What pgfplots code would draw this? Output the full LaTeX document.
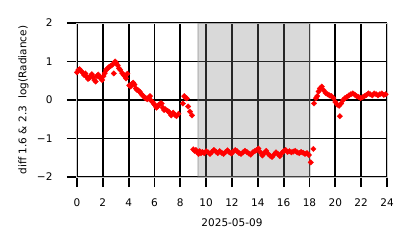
\documentclass[border=0pt]{standalone}
\usepackage{pgfplots}
\pgfplotsset{compat=1.18}
\usepackage{fontspec}
\setmainfont{DejaVu Sans}
\definecolor{mpurple}{RGB}{128,0,128}
\definecolor{mred}{RGB}{255,0,0}
\definecolor{spine}{RGB}{204,204,204}

\begin{document}
\begin{tikzpicture}
\begin{axis}[
  at={(0,0)}, anchor=south west,
  width=310bp, height=154bp, scale only axis,
  xmin=0, xmax=24, ymin=-2, ymax=2,
  xtick={0,2,...,24},
  xticklabels={0,2,4,6,8,10,12,14,16,18,20,22,24},
  ytick={-2,-1,0,1,2},
  yticklabels={−2,−1,0,1,2},
  tick align=outside,
  xtick pos=bottom, ytick pos=left,
  major tick length=10bp,
  tick style={black, line width=1.8bp},
  xmajorgrids=true, ymajorgrids=true,
  major grid style={black, line width=1.8bp},
  axis line style={spine, line width=1bp},
  ticklabel style={font=\fontsize{10.5bp}{12bp}\selectfont},
  yticklabel style={anchor=east, xshift=-11bp},
  xticklabel style={anchor=north, yshift=-8bp},
  xlabel={2025-05-09},
  xlabel style={at={(axis description cs:0.5,0)}, anchor=base, yshift=-49bp, font=\fontsize{10.5bp}{12bp}\selectfont},
  ylabel={diff 1.6 \& 2.3\hspace{0.7em}log(Radiance)},
  ylabel style={at={(axis description cs:-0.163,0.5)}, anchor=base, font=\fontsize{10.5bp}{12bp}\selectfont},
]
\addplot[only marks, color=mred, mark=square*, mark size=1.95bp, mark options={rotate=45, line width=0.3bp}] table {
0.0 0.72
0.1 0.78
0.2 0.80
0.3 0.76
0.45 0.70
0.55 0.65
0.65 0.69
0.75 0.60
0.85 0.55
0.95 0.57
1.05 0.63
1.15 0.67
1.25 0.60
1.35 0.52
1.45 0.48
1.55 0.62
1.65 0.66
1.75 0.60
1.85 0.56
1.95 0.52
2.05 0.62
2.15 0.70
2.25 0.78
2.35 0.82
2.5 0.86
2.6 0.88
2.75 0.92
2.85 0.69
2.95 1.00
3.05 0.96
3.15 0.90
3.25 0.82
3.35 0.78
3.5 0.70
3.6 0.65
3.7 0.62
3.8 0.56
3.9 0.68
4.05 0.38
4.15 0.35
4.25 0.42
4.35 0.45
4.45 0.40
4.55 0.30
4.65 0.26
4.75 0.25
4.85 0.22
4.95 0.17
5.05 0.13
5.15 0.10
5.25 0.06
5.35 0.04
5.45 0.02
5.55 0.06
5.65 0.10
5.75 -0.02
5.85 -0.05
5.95 -0.10
6.05 -0.14
6.15 -0.20
6.25 -0.17
6.35 -0.12
6.45 -0.09
6.55 -0.09
6.65 -0.20
6.75 -0.26
6.85 -0.24
7.0 -0.28
7.1 -0.30
7.2 -0.35
7.3 -0.40
7.45 -0.33
7.6 -0.39
7.7 -0.42
7.85 -0.36
8.2 -0.09
8.3 0.10
8.4 0.06
8.5 0.04
8.6 -0.17
8.75 -0.30
8.9 -0.40
9.0 -1.28
9.1 -1.32
9.2 -1.30
9.3 -1.36
9.4 -1.40
9.5 -1.33
9.6 -1.38
9.7 -1.35
9.85 -1.38
10.0 -1.33
10.15 -1.36
10.3 -1.40
10.45 -1.35
10.6 -1.30
10.75 -1.34
10.9 -1.38
11.05 -1.33
11.2 -1.37
11.35 -1.40
11.5 -1.35
11.65 -1.31
11.8 -1.36
11.95 -1.39
12.1 -1.34
12.25 -1.30
12.4 -1.33
12.55 -1.38
12.7 -1.40
12.85 -1.36
13.0 -1.32
13.15 -1.35
13.3 -1.39
13.45 -1.42
13.6 -1.36
13.75 -1.33
13.9 -1.30
14.05 -1.26
14.2 -1.36
14.35 -1.44
14.5 -1.38
14.65 -1.32
14.8 -1.40
14.95 -1.45
15.1 -1.48
15.25 -1.42
15.4 -1.36
15.55 -1.40
15.7 -1.46
15.85 -1.38
16.0 -1.33
16.15 -1.30
16.3 -1.35
16.45 -1.33
16.6 -1.36
16.75 -1.34
16.9 -1.32
17.05 -1.36
17.2 -1.38
17.35 -1.35
17.5 -1.37
17.65 -1.40
17.8 -1.38
17.95 -1.43
18.1 -1.62
18.3 -1.27
18.35 -0.09
18.5 0.05
18.6 0.10
18.7 0.22
18.8 0.30
18.95 0.35
19.1 0.25
19.25 0.18
19.4 0.15
19.55 0.12
19.7 0.10
19.85 0.05
20.0 -0.05
20.15 -0.12
20.3 -0.15
20.35 -0.42
20.45 -0.09
20.6 0.0
20.75 0.05
20.9 0.08
21.05 0.12
21.2 0.15
21.35 0.17
21.5 0.14
21.65 0.10
21.8 0.08
21.95 0.05
22.1 0.07
22.25 0.10
22.4 0.13
22.55 0.17
22.7 0.15
22.85 0.12
23.0 0.17
23.15 0.15
23.3 0.12
23.45 0.15
23.6 0.17
23.75 0.13
23.9 0.15
};
\filldraw[fill=gray, draw=gray, fill opacity=0.3, draw opacity=0.3, line width=1.5bp] (axis cs:9.35,-2) rectangle (axis cs:18.02,2);
\end{axis}
\path (-77bp,-71bp) rectangle (337bp,177bp);
\end{tikzpicture}
\end{document}
